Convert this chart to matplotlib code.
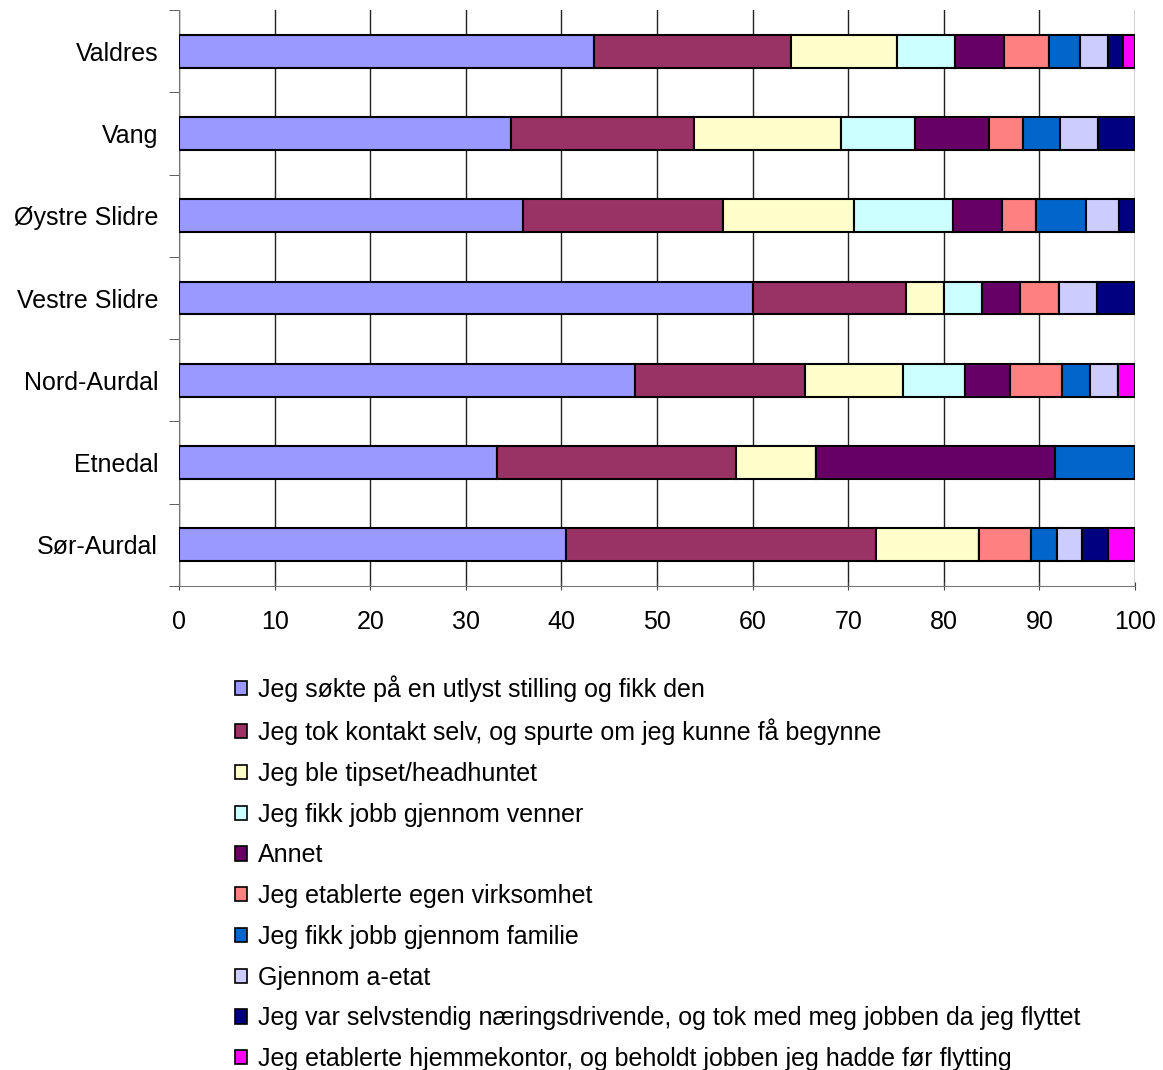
import numpy as np
import matplotlib.pyplot as plt
from matplotlib.patches import Patch

plt.rcParams['font.family'] = ['Liberation Sans', 'DejaVu Sans']

# Kommuner (fra topp til bunn)
kommuner = ['Valdres', 'Vang', 'Øystre Slidre', 'Vestre Slidre',
            'Nord-Aurdal', 'Etnedal', 'Sør-Aurdal']

kategorier = [
    'Jeg søkte på en utlyst stilling og fikk den',
    'Jeg tok kontakt selv, og spurte om jeg kunne få begynne',
    'Jeg ble tipset/headhuntet',
    'Jeg fikk jobb gjennom venner',
    'Annet',
    'Jeg etablerte egen virksomhet',
    'Jeg fikk jobb gjennom familie',
    'Gjennom a-etat',
    'Jeg var selvstendig næringsdrivende, og tok med meg jobben da jeg flyttet',
    'Jeg etablerte hjemmekontor, og beholdt jobben jeg hadde før flytting',
]

# Prosent per kommune, i samme rekkefolge som kategorier
valdres = [43.4, 20.6, 11.1, 6.1, 5.1, 4.7, 3.2, 3.0, 1.5, 1.3]
vang = [34.7, 19.2, 15.3, 7.8, 7.7, 3.6, 3.9, 3.9, 3.9, 0.0]
oystre_slidre = [36.0, 20.9, 13.7, 10.4, 5.1, 3.5, 5.3, 3.4, 1.7, 0.0]
vestre_slidre = [60.0, 16.0, 4.0, 4.0, 4.0, 4.0, 0.0, 4.0, 4.0, 0.0]
nord_aurdal = [47.7, 17.8, 10.2, 6.5, 4.7, 5.5, 2.9, 2.9, 0.0, 1.8]
etnedal = [33.3, 25.0, 8.3, 0.0, 25.0, 0.0, 8.4, 0.0, 0.0, 0.0]
sor_aurdal = [40.5, 32.4, 10.8, 0.0, 0.0, 5.4, 2.7, 2.7, 2.7, 2.8]

farger = ['#9999FF', '#993366', '#FFFFCC', '#CCFFFF', '#660066',
          '#FF8080', '#0066CC', '#CCCCFF', '#000080', '#FF00FF']

data = np.array([valdres, vang, oystre_slidre, vestre_slidre,
                 nord_aurdal, etnedal, sor_aurdal])

fig = plt.figure(figsize=(11.63, 10.70), dpi=100)
ax = fig.add_axes([179 / 1163, 1 - 586 / 1070, 956 / 1163, 576 / 1070])

y = np.arange(len(kommuner))
venstre = np.zeros(len(kommuner))
for i in range(len(kategorier)):
    ax.barh(y, data[:, i], left=venstre, height=0.4, color=farger[i],
            edgecolor='black', linewidth=1.5, zorder=3)
    venstre += data[:, i]

ax.set_xlim(0, 100)
ax.set_ylim(len(kommuner) - 0.5, -0.5)
ax.set_xticks(np.arange(0, 101, 10))
ax.set_yticks(y)
ax.set_yticklabels(kommuner)
ax.set_yticks(np.arange(-0.5, len(kommuner), 1), minor=True)
ax.tick_params(axis='y', which='major', length=0, pad=15, labelsize=18)
ax.tick_params(axis='y', which='minor', length=7, color='#444444', direction='out')
ax.tick_params(axis='x', length=6, color='#444444', direction='inout',
               labelsize=18, pad=14)
ax.grid(axis='x', color='#222222', linewidth=1, zorder=0)

for s in ['top', 'right']:
    ax.spines[s].set_visible(False)
ax.spines['left'].set_color('#777777')
ax.spines['bottom'].set_color('#777777')

handles = [Patch(facecolor=farger[i], edgecolor='black', linewidth=1.2)
           for i in range(len(kategorier))]
fig.legend(handles, kategorier, loc='upper left',
           bbox_to_anchor=(235 / 1163, 1 - 675 / 1070), frameon=False,
           borderpad=0, borderaxespad=0,
           fontsize=18, handlelength=0.5, handleheight=0.5,
           handletextpad=0.4, labelspacing=0.67)

fig.savefig('out.png', dpi=100)
